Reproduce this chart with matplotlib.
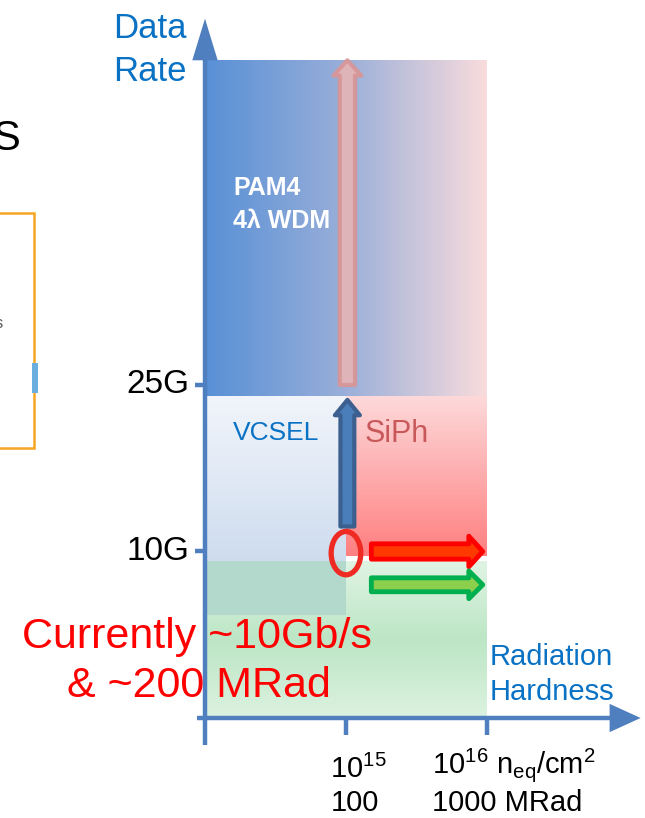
# encoding: utf-8

# Schematic of optical link technologies: data rate versus radiation hardness.

import matplotlib.pyplot as plt
import numpy as np
from matplotlib.colors import LinearSegmentedColormap
from matplotlib.patches import Ellipse, Rectangle, Polygon

plt.rcParams['font.family'] = ['Liberation Sans', 'DejaVu Sans']
plt.rcParams['mathtext.fontset'] = 'custom'
plt.rcParams['mathtext.rm'] = 'Liberation Sans'
plt.rcParams['mathtext.it'] = 'Liberation Sans'

# data rate axis: schematic levels, one unit per step
rate_levels = [1, 2]
rate_labels = ['10G', '25G']
rate_top = 3.95

# radiation axis: log10 of fluence (n_eq/cm^2)
fluence_exp = [14, 15, 16]
fluence_labels = [r'10$^{15}$' + '\n100',
                  r'10$^{16}$ n$_{\mathrm{eq}}$/cm$^{2}$' + '\n1000 MRad']
dose_now_level = 1.0      # ~10 Gb/s
dose_now_exp = 15.0       # ~200 MRad point marked by the circle

# technology regions: (x0, x1, y0, y1)
pam4_region = (14.0, 16.0, 1.93, rate_top)
vcsel_region = (14.0, 15.0, 0.62, 1.93)
siph_region = (15.0, 16.0, 0.97, 1.93)
green_region = (14.0, 16.0, 0.0, 0.94)
overlap_region = (14.0, 15.0, 0.62, 0.94)

AXIS_BLUE = '#4f7fbf'
TEXT_BLUE = '#0a72c4'


def gradient(ax, box, colors, horizontal, z, alpha=1.0):
    x0, x1, y0, y1 = box
    cmap = LinearSegmentedColormap.from_list('g', colors)
    ramp = np.linspace(0, 1, 256)
    if horizontal:
        arr = ramp.reshape(1, -1)
    else:
        # colors are given top to bottom
        arr = ramp[::-1].reshape(-1, 1)
    ax.imshow(arr, cmap=cmap, extent=[x0, x1, y0, y1], origin='lower',
              aspect='auto', interpolation='bicubic', zorder=z, alpha=alpha)


def arrow(ax, tail, tip, fc, ec, tw, hw, hl, lw=2.5, alpha=1.0):
    ax.annotate('', xy=tip, xytext=tail,
                arrowprops=dict(
                    arrowstyle='simple,head_width=%s,head_length=%s,tail_width=%s'
                    % (hw, hl, tw),
                    fc=fc, ec=ec, lw=lw, alpha=alpha,
                    shrinkA=0, shrinkB=0, mutation_scale=20),
                zorder=6)


fig = plt.figure(figsize=(6.45, 8.18), dpi=100)
ax = fig.add_axes([0, 0, 1, 1])
ax.set_axis_off()

# coloured regions
gradient(ax, pam4_region, ['#5890d6', '#9aafd9', '#f9dcdd'], True, 1)
gradient(ax, vcsel_region, ['#f1f5fb', '#c3d4ea'], False, 1)
gradient(ax, siph_region, ['#fdd9da', '#ff7f80'], False, 1)
gradient(ax, green_region, ['#e0f4e4', '#bce6c5', '#dcf2e0'], False, 1)
x0, x1, y0, y1 = overlap_region
ax.add_patch(Rectangle((x0, y0), x1 - x0, y1 - y0, fc='#b3d9cd', ec='none',
                       zorder=2))

# arrows showing where development goes
arrow(ax, (15.01, 2.0), (15.01, rate_top), '#e6b5b6', '#d89596',
      0.55, 1.0, 0.55, lw=3, alpha=0.9)
arrow(ax, (15.01, 1.15), (15.01, 1.91), '#4a7ebb', '#3b5f8e',
      0.5, 0.9, 0.55, lw=3)
arrow(ax, (15.18, dose_now_level), (15.97, dose_now_level), '#ff3a00',
      '#ff0000', 0.55, 1.1, 0.5, lw=3.5)
arrow(ax, (15.18, 0.80), (15.97, 0.80), '#8ccf4c', '#00b04e',
      0.5, 1.0, 0.5, lw=3.5)
ax.add_patch(Ellipse((dose_now_exp, dose_now_level - 0.01), 0.21, 0.26,
                     fc='none', ec='#ee2a22', lw=3.8, zorder=7))

# axes with arrow heads
ax.plot([14, 14], [-0.16, rate_top], color=AXIS_BLUE, lw=3.2,
        solid_capstyle='butt', zorder=8)
ax.add_patch(Polygon([[13.91, rate_top], [14.09, rate_top], [14.0, 4.2]],
                     closed=True, fc=AXIS_BLUE, ec='none', zorder=8))
ax.plot([13.94, 16.87], [0, 0], color=AXIS_BLUE, lw=3.2,
        solid_capstyle='butt', zorder=8)
ax.add_patch(Polygon([[16.87, 0.085], [16.87, -0.085], [17.09, 0.0]],
                     closed=True, fc=AXIS_BLUE, ec='none', zorder=8))
for lev in rate_levels:
    ax.plot([13.93, 14.0], [lev, lev], color=AXIS_BLUE, lw=3.2,
            solid_capstyle='butt', zorder=8)
for e in fluence_exp[1:]:
    ax.plot([e, e], [0, -0.1], color=AXIS_BLUE, lw=3.2,
            solid_capstyle='butt', zorder=8)

# tick labels
for lev, lab in zip(rate_levels, rate_labels):
    ax.text(13.89, lev, lab, ha='right', va='center', fontsize=24,
            color='black', zorder=9)
for e, lab in zip(fluence_exp[1:], fluence_labels):
    ax.text(e - 0.11 if e == 15 else e - 0.39, -0.56, lab, ha='left',
            va='baseline', fontsize=21, color='black', linespacing=1.25,
            zorder=9)

# axis titles
ax.text(13.35, 3.825, 'Data\nRate', ha='left', va='baseline', fontsize=25,
        color=TEXT_BLUE, linespacing=1.38, zorder=9)
ax.text(16.02, 0.11, 'Radiation\nHardness', ha='left', va='baseline',
        fontsize=21, color=TEXT_BLUE, linespacing=1.3, zorder=9)

# region labels
ax.text(14.2, 2.94, 'PAM4\n4\u03bb WDM', ha='left', va='baseline',
        fontsize=18, fontweight='bold', color='white', linespacing=1.5,
        zorder=9)
ax.text(14.2, 1.67, 'VCSEL', ha='left', va='baseline', fontsize=19,
        color=TEXT_BLUE, zorder=9)
ax.text(15.13, 1.66, 'SiPh', ha='left', va='baseline', fontsize=22,
        color='#c8585a', zorder=9)

# current status
ax.text(12.70, 0.42, 'Currently ~10Gb/s', ha='left', va='baseline',
        fontsize=31, color='#ff0000', zorder=9)
ax.text(13.02, 0.126, '& ~200 MRad', ha='left', va='baseline',
        fontsize=31, color='#ff0000', zorder=9)

# neighbouring slide content cut at the left edge
ax.text(12.49, 3.41, 'S', ha='left', va='baseline', fontsize=30,
        color='black', zorder=9)
ax.text(12.51, 2.34, 's', ha='left', va='baseline', fontsize=12,
        color='#555555', zorder=9)
ax.add_patch(Rectangle((12.40, 1.62), 0.39, 1.41, fc='none', ec='#f5a623',
                       lw=1.8, zorder=9))
ax.add_patch(Rectangle((12.77, 1.95), 0.045, 0.18, fc='#6aaee0', ec='none',
                       zorder=9))

ax.set_xlim(12.546, 17.121)
ax.set_ylim(-0.6006, 4.312)

fig.savefig('out.png', dpi=100)
